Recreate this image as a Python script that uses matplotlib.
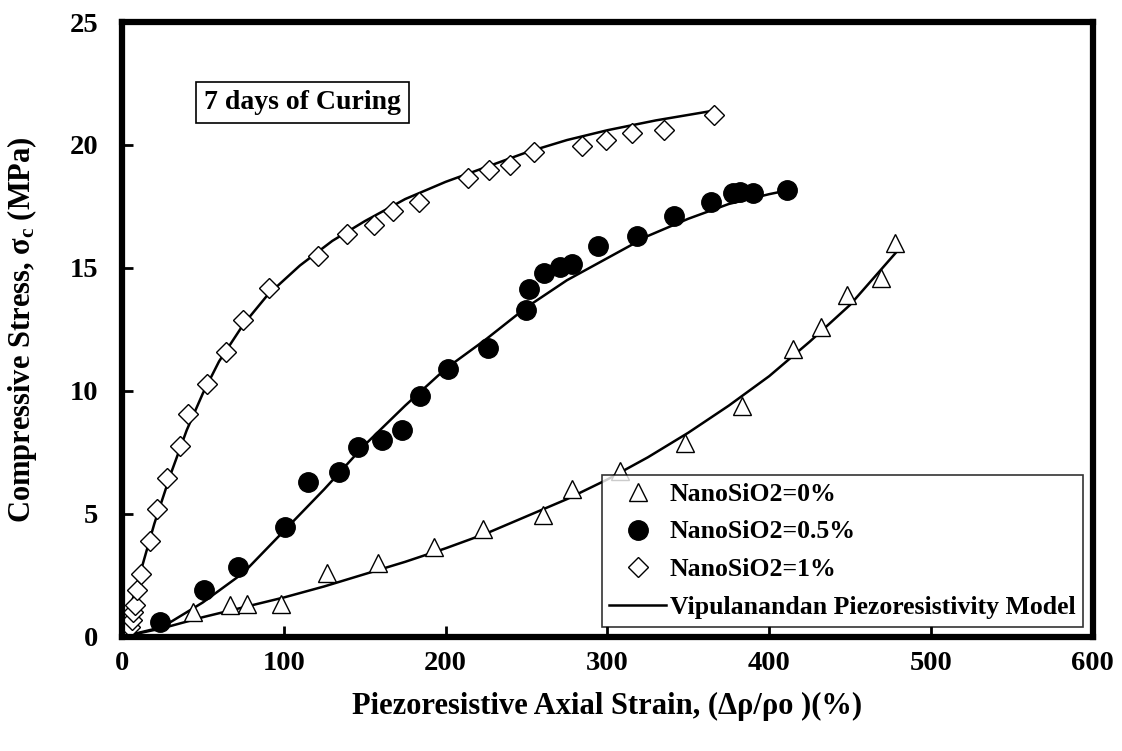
import numpy as np
import matplotlib.pyplot as plt

plt.rcParams['font.family'] = ['Liberation Serif', 'DejaVu Serif']
plt.rcParams['font.weight'] = 'bold'
plt.rcParams['mathtext.fontset'] = 'custom'
plt.rcParams['mathtext.rm'] = 'Liberation Serif:bold'
plt.rcParams['mathtext.it'] = 'Liberation Serif:bold'
plt.rcParams['mathtext.bf'] = 'Liberation Serif:bold'

# NanoSiO2 = 0 %
x0 = [0, 44, 67, 77, 98, 127, 158, 193, 223, 260, 278, 308, 348, 383, 415, 432, 448, 469, 478]
y0 = [0, 1.0, 1.3, 1.35, 1.35, 2.6, 3.0, 3.66, 4.4, 4.96, 6.0, 6.75, 7.9, 9.4, 11.7, 12.6, 13.9, 14.6, 16.0]

# NanoSiO2 = 0.5 %
x05 = [0, 23.5, 51, 72, 101, 115, 134, 146, 161, 173, 184, 201.5, 226, 250, 251.5,
       261, 271, 278, 294, 318, 341, 364, 377.6, 382, 390, 411]
y05 = [0, 0.6, 1.9, 2.85, 4.47, 6.3, 6.7, 7.7, 8.0, 8.4, 9.8, 10.9, 11.75, 13.3, 14.15,
       14.8, 15.04, 15.16, 15.9, 16.3, 17.1, 17.7, 18.05, 18.1, 18.05, 18.15]

# NanoSiO2 = 1 %
x1 = [0, 5, 6, 7, 8, 9, 11.7, 17.3, 21.6, 27.8, 35.8, 40.8, 52.5, 64.3, 74.8, 90.9,
      121, 139, 155.7, 167.5, 183.6, 214, 227, 240, 254.6, 284, 299, 315, 335, 366]
y1 = [0, 0.4, 0.7, 1.0, 1.3, 1.9, 2.56, 3.9, 5.2, 6.46, 7.76, 9.07, 10.3, 11.6, 12.9, 14.2,
      15.5, 16.4, 16.75, 17.3, 17.7, 18.66, 19.0, 19.2, 19.7, 19.96, 20.2, 20.5, 20.6, 21.2]

# model curves
mx0 = [0, 25, 50, 75, 100, 125, 150, 175, 200, 225, 250, 275, 300, 325, 350, 375, 400, 425, 450, 478]
my0 = [0, 0.35, 0.8, 1.2, 1.6, 2.05, 2.55, 3.05, 3.6, 4.2, 4.9, 5.6, 6.4, 7.3, 8.3, 9.4, 10.6, 12.0, 13.5, 15.6]

mx05 = [0, 25, 50, 75, 100, 125, 150, 175, 200, 225, 250, 275, 300, 325, 350, 375, 400, 411]
my05 = [0, 0.4, 1.4, 2.6, 4.3, 6.0, 7.8, 9.4, 10.9, 12.1, 13.4, 14.5, 15.4, 16.3, 17.0, 17.6, 18.0, 18.15]

mx1 = [0, 10, 20, 30, 40, 50, 60, 75, 90, 110, 130, 150, 175, 200, 225, 250, 275, 300, 330, 366]
my1 = [0, 2.3, 4.6, 6.6, 8.4, 9.9, 11.2, 12.7, 13.9, 15.1, 16.1, 16.9, 17.8, 18.5, 19.1, 19.7, 20.2, 20.6, 21.0, 21.4]

fig = plt.figure(figsize=(11.22, 7.51), dpi=100)
ax = fig.add_axes([0.1087, 0.152, 0.8653, 0.8187])

ax.plot(mx0, my0, color='black', lw=1.8)
ax.plot(mx05, my05, color='black', lw=1.8)
ax.plot(mx1, my1, color='black', lw=1.8)

ax.plot(x0, y0, '^', ms=13, mfc='white', mec='black', mew=1.0, label='NanoSiO2=0%')
ax.plot(x05, y05, 'o', ms=14, mfc='black', mec='black', label='NanoSiO2=0.5%')
ax.plot(x1, y1, 'D', ms=10, mfc='white', mec='black', mew=1.0, label='NanoSiO2=1%')
ax.plot([], [], color='black', lw=1.8, label='Vipulanandan Piezoresistivity Model')

ax.set_xlim(0, 600)
ax.set_ylim(0, 25)
ax.set_xticks(range(0, 601, 100))
ax.set_yticks(range(0, 26, 5))
ax.tick_params(direction='in', length=8, width=2, labelsize=20.5)
ax.tick_params(axis='x', pad=10)
ax.tick_params(axis='y', pad=17)
for s in ax.spines.values():
    s.set_linewidth(4.5)

ax.set_xlabel('Piezoresistive Axial Strain, (\u0394\u03c1/\u03c1o )(%)', fontsize=22, fontweight='bold', labelpad=12)
ax.set_ylabel('Compressive Stress, $\\sigma_c$ (MPa)', fontsize=22, fontweight='bold', labelpad=22)

ax.text(0.186, 0.869, '7 days of Curing', transform=ax.transAxes, fontsize=20, fontweight='bold',
        va='center', ha='center',
        bbox=dict(boxstyle='square,pad=0.3', fc='white', ec='black', lw=1.2))

leg = ax.legend(loc='lower right', bbox_to_anchor=(0.99, 0.016), fontsize=18.5, frameon=True,
                fancybox=False, edgecolor='black', handlelength=2.2, handletextpad=0.15,
                labelspacing=0.58, borderpad=0.3, borderaxespad=0)
leg.get_frame().set_linewidth(1.2)

fig.savefig('out.png', dpi=100)
